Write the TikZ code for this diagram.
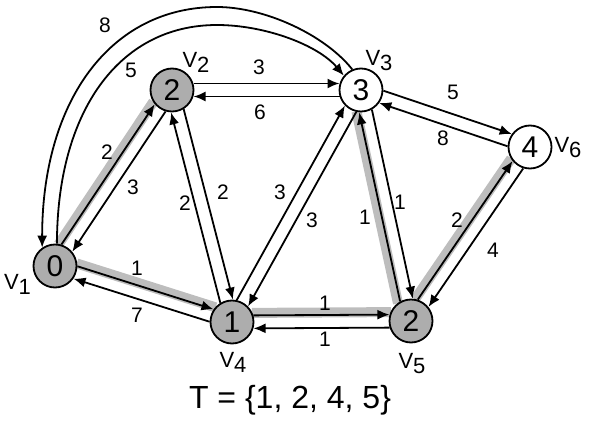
\documentclass[tikz,border=0pt]{standalone}
\usepackage{fontspec}
\setmainfont{Liberation Sans}
\usetikzlibrary{calc,arrows.meta}
\pgfdeclarelayer{bg}
\pgfsetlayers{bg,main}
\newcommand{\dedge}[2]{\draw[arr] ($(#1)!6.5pt!90:(#2)$) -- ($(#2)!6.5pt!-90:(#1)$);}
\newcommand{\tband}[2]{\begin{pgfonlayer}{bg}\draw[band] ($(#1)!9pt!90:(#2)$) -- ($(#2)!9pt!-90:(#1)$);\end{pgfonlayer}}
\tikzset{
  vtx/.style={circle,draw,line width=1.8pt,minimum size=43pt,inner sep=0pt,font=\fontsize{30}{32}\selectfont},
  gv/.style={vtx,fill=black!32},
  wv/.style={vtx,fill=white},
  lab/.style={font=\fontsize{21}{23}\selectfont,inner sep=0pt},
  vname/.style={font=\fontsize{22}{24}\selectfont,inner sep=0pt},
  arr/.style={line width=1.8pt,-{Latex[length=12pt,width=10pt]},shorten >=21.5pt,shorten <=21.5pt},
  arc/.style={line width=1.8pt,-{Latex[length=12pt,width=10pt]}},
  band/.style={line width=10pt,black!26,shorten >=20pt,shorten <=20pt}
}
\begin{document}
\begin{tikzpicture}[x=1pt,y=-1pt]
\useasboundingbox (0,0) rectangle (594,422);
% vertices
\node[gv] (V1) at (55,266) {0};
\node[gv] (V2) at (172,90) {2};
\node[wv] (V3) at (361,90) {3};
\node[wv] (V6) at (530,147) {4};
\node[gv] (V4) at (232,322) {1};
\node[gv] (V5) at (411,321) {2};
% vertex names
\node[vname] (n1) at (17.5,284.5) {V\raisebox{-5pt}{1}};
\node[vname] (n2) at (196,62) {V\raisebox{-5pt}{2}};
\node[vname] (n3) at (379,61) {V\raisebox{-5pt}{3}};
\node[vname] (n6) at (568,147.5) {V\raisebox{-5pt}{6}};
\node[vname] (n4) at (233,362) {V\raisebox{-5pt}{4}};
\node[vname] (n5) at (412,364) {V\raisebox{-5pt}{5}};
% tree bands
\tband{V1}{V2}
\tband{V1}{V4}
\tband{V4}{V5}
\tband{V5}{V3}
\tband{V5}{V6}
% directed edges (each drawn on the left of its direction)
\dedge{V1}{V2}
\dedge{V2}{V1}
\dedge{V2}{V3}
\dedge{V3}{V2}
\dedge{V3}{V6}
\dedge{V6}{V3}
\dedge{V2}{V4}
\dedge{V4}{V2}
\dedge{V4}{V3}
\dedge{V3}{V4}
\dedge{V5}{V3}
\dedge{V3}{V5}
\dedge{V5}{V6}
\dedge{V6}{V5}
\dedge{V1}{V4}
\dedge{V4}{V1}
\dedge{V4}{V5}
\dedge{V5}{V4}
% arcs between V1 and V3
\draw[arc] (V3.113) .. controls (325,35) and (265,7) .. (217,7)
  .. controls (109,7) and (42,103) .. (V1.125);
\draw[arc] (V1.85) .. controls (57,113) and (118,25) .. (217,25)
  .. controls (265,25) and (318,45) .. (V3.140);
% weights
\node[lab] (w8a) at (105,25) {8};
\node[lab] (w5a) at (131,70) {5};
\node[lab] (w12) at (107,152) {2};
\node[lab] (w21) at (133,187) {3};
\node[lab] (w23) at (259,67) {3};
\node[lab] (w32) at (260,112) {6};
\node[lab] (w36) at (453,92) {5};
\node[lab] (w63) at (443,138) {8};
\node[lab] (w24) at (223,192) {2};
\node[lab] (w42) at (185,203) {2};
\node[lab] (w43) at (280,192) {3};
\node[lab] (w34) at (312,220) {3};
\node[lab] (w53) at (365,217) {1};
\node[lab] (w35) at (400,202) {1};
\node[lab] (w56) at (457,220) {2};
\node[lab] (w65) at (493,250) {4};
\node[lab] (w14) at (137,268) {1};
\node[lab] (w41) at (137,315) {7};
\node[lab] (w45) at (325,303) {1};
\node[lab] (w54) at (325,339) {1};
% set
\node[anchor=base,inner sep=0pt,font=\fontsize{32}{34}\selectfont] (T) at (290,408) {T = \{1, 2, 4, 5\}};
\end{tikzpicture}
\end{document}
